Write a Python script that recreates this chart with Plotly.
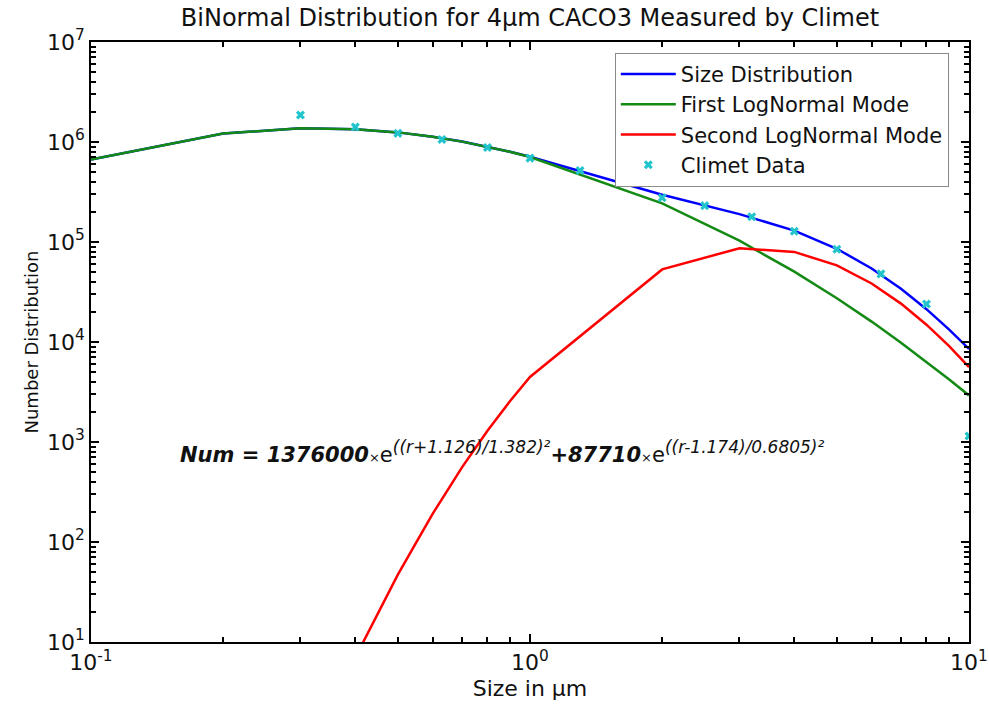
import plotly.graph_objects as go

# ---- data ----
model_size = [0.1, 0.2, 0.3, 0.4, 0.5, 0.6, 0.7, 0.8, 0.9, 1.0,
              2.0, 3.0, 4.0, 5.0, 6.0, 7.0, 8.0, 9.0, 10.0]
size_distribution = [6.67e5, 1.217e6, 1.372e6, 1.345e6, 1.248e6, 1.129e6, 1.010e6, 8.99e5, 8.00e5, 7.13e5,
                     2.97e5, 1.90e5, 1.30e5, 8.56e4, 5.44e4, 3.41e4, 2.13e4, 1.34e4, 8.53e3]
first_mode = [6.67e5, 1.217e6, 1.372e6, 1.345e6, 1.248e6, 1.129e6, 1.009e6, 8.98e5, 7.98e5, 7.08e5,
              2.43e5, 1.03e5, 5.05e4, 2.74e4, 1.60e4, 9.84e3, 6.34e3, 4.24e3, 2.92e3]
second_mode = [4e-7, 4.7e-3, 0.44, 7.0, 47.2, 191, 557, 1296, 2558, 4472,
               5.32e4, 8.66e4, 7.96e4, 5.83e4, 3.85e4, 2.42e4, 1.49e4, 9.15e3, 5.61e3]
climet_size = [0.3, 0.4, 0.5, 0.63, 0.8, 1.0, 1.3, 1.6, 2.0, 2.5, 3.2, 4.0, 5.0, 6.3, 8.0, 10.0]
climet_count = [1.86e6, 1.41e6, 1.22e6, 1.06e6, 8.8e5, 6.9e5, 5.2e5, 3.95e5, 2.77e5, 2.31e5,
                1.79e5, 1.28e5, 8.45e4, 4.8e4, 2.4e4, 1.15e3]

x_tick_vals = [0.1, 1, 10]
x_tick_text = ["10<sup>-1</sup>", "10<sup>0</sup>", "10<sup>1</sup>"]
y_tick_vals = [1e1, 1e2, 1e3, 1e4, 1e5, 1e6, 1e7]
y_tick_text = ["10<sup>1</sup>", "10<sup>2</sup>", "10<sup>3</sup>", "10<sup>4</sup>",
               "10<sup>5</sup>", "10<sup>6</sup>", "10<sup>7</sup>"]

# tick-mark positions (decades plus 2..9 within each decade)
x_marks = x_tick_vals + [m * 10.0 ** e for e in range(-1, 1) for m in range(2, 10)]
y_marks = y_tick_vals + [m * 10.0 ** e for e in range(1, 7) for m in range(2, 10)]

FONT = "DejaVu Sans"
X_RANGE = [-1, 1]
Y_RANGE = [1, 7]


def base_axis():
    return dict(
        type="log",
        automargin=False,
        showgrid=False,
        zeroline=False,
        ticks="inside",
        tickcolor="black",
    )


fig = go.Figure()
fig.add_trace(go.Scatter(x=model_size, y=size_distribution, mode="lines",
                         name="Size Distribution", line=dict(color="#0000FF", width=2.5)))
fig.add_trace(go.Scatter(x=model_size, y=first_mode, mode="lines",
                         name="First LogNormal Mode", line=dict(color="#138A13", width=2.5)))
fig.add_trace(go.Scatter(x=model_size, y=second_mode, mode="lines",
                         name="Second LogNormal Mode", line=dict(color="#FF0000", width=2.5)))
fig.add_trace(go.Scatter(x=climet_size, y=climet_count, mode="markers",
                         name="Climet Data",
                         marker=dict(symbol="x", size=8, color="#22C4CC",
                                     line=dict(width=0))))
# helper trace so the tick-mark overlay axes get drawn
fig.add_trace(go.Scatter(x=[1], y=[1e4], xaxis="x2", yaxis="y2", showlegend=False,
                         mode="markers", marker=dict(opacity=0), hoverinfo="skip"))

fig.update_layout(
    width=989, height=713,
    margin=dict(l=91, r=20, t=42, b=71, autoexpand=False),
    paper_bgcolor="white",
    plot_bgcolor="white",
    font=dict(family=FONT, color="#111"),
    title=dict(text="BiNormal Distribution for 4µm CACO3 Measured by Climet",
               x=0.5, xref="paper", xanchor="center",
               y=1 - 18 / 713, yref="container", yanchor="middle",
               font=dict(family=FONT, size=24, color="#111")),
    xaxis=dict(base_axis(), range=X_RANGE, tickmode="array",
               tickvals=x_tick_vals, ticktext=x_tick_text,
               showline=True, linecolor="black", linewidth=1.5,
               mirror="allticks", ticklen=8, tickwidth=1.6,
               tickfont=dict(family=FONT, size=22, color="#111"),
               title=dict(text="Size in µm", font=dict(family=FONT, size=22, color="#111"),
                          standoff=6)),
    yaxis=dict(base_axis(), range=Y_RANGE, tickmode="array",
               tickvals=y_tick_vals, ticktext=y_tick_text,
               showline=True, linecolor="black", linewidth=1.5,
               mirror="allticks", ticklen=8, tickwidth=1.6,
               tickfont=dict(family=FONT, size=22, color="#111"),
               title=dict(text="Number Distribution", font=dict(family=FONT, size=18, color="#111"),
                          standoff=4)),
    xaxis2=dict(base_axis(), overlaying="x", side="bottom", range=X_RANGE,
                tickmode="array", tickvals=x_marks, showticklabels=False,
                showline=False, mirror="ticks", ticklen=5, tickwidth=1.6),
    yaxis2=dict(base_axis(), overlaying="y", side="left", range=Y_RANGE,
                tickmode="array", tickvals=y_marks, showticklabels=False,
                showline=False, mirror="ticks", ticklen=5, tickwidth=1.6),
    legend=dict(x=0.977, xanchor="right", y=0.982, yanchor="top",
                bgcolor="white", bordercolor="#8a8a8a", borderwidth=1,
                font=dict(family=FONT, size=21, color="#111"),
                itemwidth=55, tracegroupgap=0),
    showlegend=True,
)

fig.add_annotation(
    xref="paper", yref="paper", x=(178 - 91) / 878, y=(642 - 452) / 600,
    xanchor="left", yanchor="middle", showarrow=False,
    text=("<b><i>Num = 1376000</i></b><span style='font-size:13px'>×</span>e"
          "<sup><span style='font-size:17px'><i>((r+1.126)/1.382)²</i></span></sup>"
          "<b><i>+87710</i></b><span style='font-size:13px'>×</span>e"
          "<sup><span style='font-size:17px'><i>((r-1.174)/0.6805)²</i></span></sup>"),
    font=dict(family=FONT, size=21, color="#111"),
)

fig.write_html("out.html")
